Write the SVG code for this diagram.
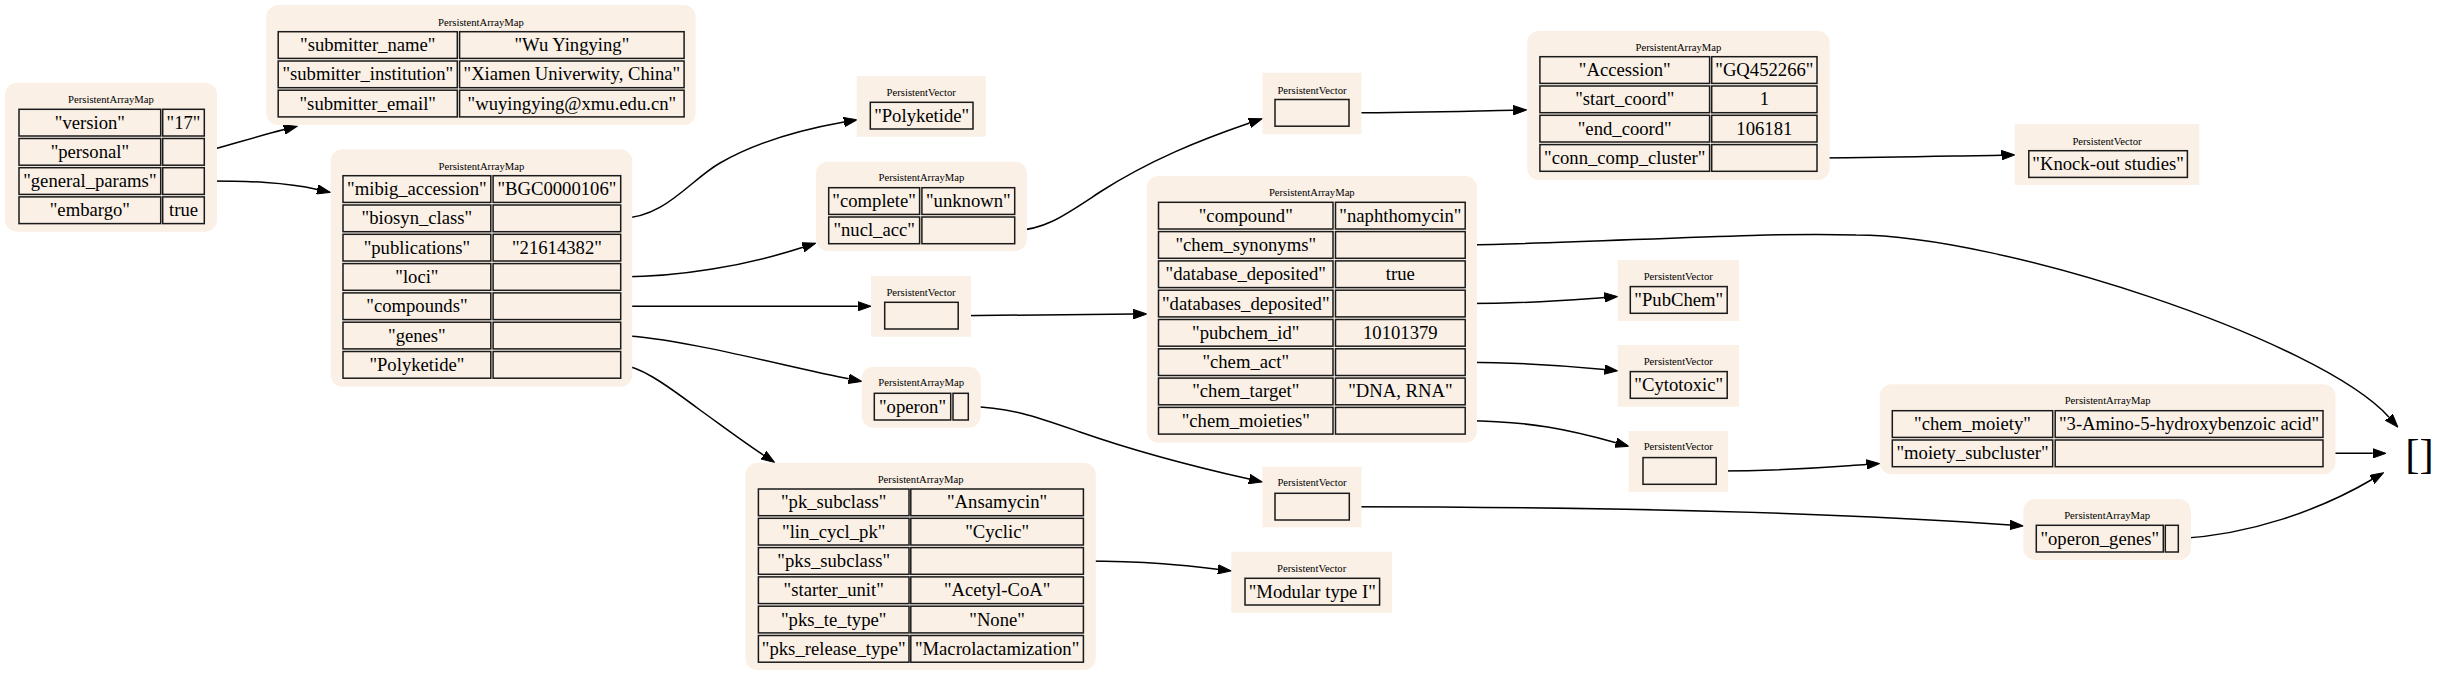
<svg xmlns="http://www.w3.org/2000/svg" width="2461" height="676" viewBox="0 0 2461 676">
<style>
.bg{fill:#faf0e6;stroke:none}
.c{fill:#faf0e6;stroke:#1a1a1a;stroke-width:1.5}
.t{font-family:"Liberation Serif","Times New Roman",serif;font-size:18.67px;text-anchor:middle;fill:#000}
.h{font-family:"Liberation Serif","Times New Roman",serif;font-size:10.67px;text-anchor:middle;fill:#000}
.e{fill:none;stroke:#000;stroke-width:1.5;marker-end:url(#ah)}
</style>
<defs>
<marker id="ah" markerUnits="userSpaceOnUse" markerWidth="14" markerHeight="10" refX="0" refY="5" orient="auto" viewBox="0 0 14 10">
<path d="M0,0.3 L13.3,5 L0,9.7 z" fill="#000" stroke="#000" stroke-width="1"/>
</marker>
</defs>
<rect width="2461" height="676" fill="#fff"/>

<g id="edges">
<path class="e" d="M204.3,151.85 C230,145 255,137 284.2,129.6"/>
<path class="e" d="M204.3,181.05 C250,181 285,182 317.3,189.4"/>
<path class="e" d="M620.7,218.35 C665,218 690,180 720,163 C760,140 810,128 844,122"/>
<path class="e" d="M620.7,276.95 C680,276.7 745,266 803,247.3"/>
<path class="e" d="M620.7,306.25 L857.7,306.25"/>
<path class="e" d="M620.7,335.55 C680,338 780,365 848.7,378.8"/>
<path class="e" d="M620.7,364.85 C640,367 660,380 700,410 C725,428 745,443 763.5,455.1"/>
<path class="e" d="M1014.7,230.35 C1045,230 1065,215 1100,192 C1150,160 1200,140 1249.5,123"/>
<path class="e" d="M1349,112.85 C1420,112.5 1470,111 1513.2,110.2"/>
<path class="e" d="M1817,157.95 C1900,157.5 1950,156 2001.5,155.2"/>
<path class="e" d="M958.2,315.65 C1030,315.5 1080,314.5 1133.4,314.1"/>
<path class="e" d="M1465.2,244.95 C1600,243 1750,232 1856,235 C2000,235 2320,340 2389,417.2"/>
<path class="e" d="M1465.2,303.55 C1530,303.7 1570,300 1604.4,297.5"/>
<path class="e" d="M1465.2,362.15 C1530,362.6 1570,366 1604.5,369.5"/>
<path class="e" d="M1465.2,420.75 C1530,421 1570,430 1616,442.7"/>
<path class="e" d="M1716.2,470.95 C1790,471 1830,467 1866.5,464.5"/>
<path class="e" d="M2323,453.35 L2372.7,453.35"/>
<path class="e" d="M1083.4,560.95 C1150,561 1190,566 1218,569.3"/>
<path class="e" d="M1349.3,506.65 C1700,507 1900,517 2010,525"/>
<path class="e" d="M2178.3,538.65 C2250,535 2320,510 2372,479.5"/>
<path class="e" d="M968.3,406.65 C1010,406.7 1040,418 1080,432 C1140,453 1200,468 1249.2,479.1"/>
</g>

<g id="root">
<rect class="bg" x="5" y="82.7" width="212" height="149" rx="12"/>
<text class="h" x="111" y="102.5">PersistentArrayMap</text>
<rect class="c" x="19" y="109.3" width="141.7" height="26.7"/><rect class="c" x="162.7" y="109.3" width="41.6" height="26.7"/>
<rect class="c" x="19" y="138.5" width="141.7" height="26.7"/><rect class="c" x="162.7" y="138.5" width="41.6" height="26.7"/>
<rect class="c" x="19" y="167.7" width="141.7" height="26.7"/><rect class="c" x="162.7" y="167.7" width="41.6" height="26.7"/>
<rect class="c" x="19" y="196.9" width="141.7" height="26.7"/><rect class="c" x="162.7" y="196.9" width="41.6" height="26.7"/>
<text class="t" x="89.85" y="128.65">"version"</text><text class="t" x="183.5" y="128.65">"17"</text>
<text class="t" x="89.85" y="157.85">"personal"</text>
<text class="t" x="89.85" y="187.05">"general_params"</text>
<text class="t" x="89.85" y="216.25">"embargo"</text><text class="t" x="183.5" y="216.25">true</text>
</g>

<g id="personal">
<rect class="bg" x="266.3" y="5" width="429.3" height="120" rx="12"/>
<text class="h" x="481" y="25.8">PersistentArrayMap</text>
<rect class="c" x="278.2" y="31.7" width="179.1" height="26.7"/><rect class="c" x="459.6" y="31.7" width="224.5" height="26.7"/>
<rect class="c" x="278.2" y="61" width="179.1" height="26.7"/><rect class="c" x="459.6" y="61" width="224.5" height="26.7"/>
<rect class="c" x="278.2" y="90.2" width="179.1" height="26.7"/><rect class="c" x="459.6" y="90.2" width="224.5" height="26.7"/>
<text class="t" x="367.75" y="51.05">"submitter_name"</text><text class="t" x="571.85" y="51.05">"Wu Yingying"</text>
<text class="t" x="367.75" y="80.35">"submitter_institution"</text><text class="t" x="571.85" y="80.35">"Xiamen Univerwity, China"</text>
<text class="t" x="367.75" y="109.55">"submitter_email"</text><text class="t" x="571.85" y="109.55">"wuyingying@xmu.edu.cn"</text>
</g>

<g id="general_params">
<rect class="bg" x="330.6" y="149.3" width="301.6" height="237.4" rx="12"/>
<text class="h" x="481.4" y="170.2">PersistentArrayMap</text>
<rect class="c" x="343" y="175.7" width="147.8" height="26.7"/><rect class="c" x="493.1" y="175.7" width="127.6" height="26.7"/>
<rect class="c" x="343" y="205" width="147.8" height="26.7"/><rect class="c" x="493.1" y="205" width="127.6" height="26.7"/>
<rect class="c" x="343" y="234.3" width="147.8" height="26.7"/><rect class="c" x="493.1" y="234.3" width="127.6" height="26.7"/>
<rect class="c" x="343" y="263.6" width="147.8" height="26.7"/><rect class="c" x="493.1" y="263.6" width="127.6" height="26.7"/>
<rect class="c" x="343" y="292.9" width="147.8" height="26.7"/><rect class="c" x="493.1" y="292.9" width="127.6" height="26.7"/>
<rect class="c" x="343" y="322.2" width="147.8" height="26.7"/><rect class="c" x="493.1" y="322.2" width="127.6" height="26.7"/>
<rect class="c" x="343" y="351.5" width="147.8" height="26.7"/><rect class="c" x="493.1" y="351.5" width="127.6" height="26.7"/>
<text class="t" x="416.9" y="195.05">"mibig_accession"</text><text class="t" x="556.9" y="195.05">"BGC0000106"</text>
<text class="t" x="416.9" y="224.35">"biosyn_class"</text>
<text class="t" x="416.9" y="253.65">"publications"</text><text class="t" x="556.9" y="253.65">"21614382"</text>
<text class="t" x="416.9" y="282.95">"loci"</text>
<text class="t" x="416.9" y="312.25">"compounds"</text>
<text class="t" x="416.9" y="341.55">"genes"</text>
<text class="t" x="416.9" y="370.85">"Polyketide"</text>
</g>

<g id="biosyn_class">
<rect class="bg" x="856.7" y="76" width="129" height="60.7"/>
<text class="h" x="921.2" y="96.2">PersistentVector</text>
<rect class="c" x="870.3" y="102.3" width="102.7" height="26.7"/>
<text class="t" x="921.65" y="121.65">"Polyketide"</text>
</g>

<g id="loci">
<rect class="bg" x="815.9" y="161.7" width="211.1" height="89.3" rx="12"/>
<text class="h" x="921.4" y="181.2">PersistentArrayMap</text>
<rect class="c" x="828.7" y="187.7" width="90.9" height="26.7"/><rect class="c" x="921.9" y="187.7" width="92.8" height="26.7"/>
<rect class="c" x="828.7" y="217" width="90.9" height="26.7"/><rect class="c" x="921.9" y="217" width="92.8" height="26.7"/>
<text class="t" x="874.15" y="207.05">"complete"</text><text class="t" x="968.3" y="207.05">"unknown"</text>
<text class="t" x="874.15" y="236.35">"nucl_acc"</text>
</g>

<g id="compounds">
<rect class="bg" x="871" y="276" width="100" height="60.7"/>
<text class="h" x="921" y="296.2">PersistentVector</text>
<rect class="c" x="884.7" y="302.3" width="73.5" height="26.7"/>
</g>

<g id="genes">
<rect class="bg" x="861.7" y="366.7" width="119" height="61" rx="12"/>
<text class="h" x="921.2" y="386.2">PersistentArrayMap</text>
<rect class="c" x="874.3" y="393.3" width="76.4" height="26.7"/><rect class="c" x="953" y="393.3" width="15.3" height="26.7"/>
<text class="t" x="912.5" y="412.65">"operon"</text>
</g>

<g id="polyketide">
<rect class="bg" x="745.5" y="462.7" width="350.3" height="207.3" rx="12"/>
<text class="h" x="920.6" y="482.5">PersistentArrayMap</text>
<rect class="c" x="758.4" y="489" width="150.6" height="26.7"/><rect class="c" x="910.8" y="489" width="172.6" height="26.7"/>
<rect class="c" x="758.4" y="518.3" width="150.6" height="26.7"/><rect class="c" x="910.8" y="518.3" width="172.6" height="26.7"/>
<rect class="c" x="758.4" y="547.6" width="150.6" height="26.7"/><rect class="c" x="910.8" y="547.6" width="172.6" height="26.7"/>
<rect class="c" x="758.4" y="576.9" width="150.6" height="26.7"/><rect class="c" x="910.8" y="576.9" width="172.6" height="26.7"/>
<rect class="c" x="758.4" y="606.2" width="150.6" height="26.7"/><rect class="c" x="910.8" y="606.2" width="172.6" height="26.7"/>
<rect class="c" x="758.4" y="635.5" width="150.6" height="26.7"/><rect class="c" x="910.8" y="635.5" width="172.6" height="26.7"/>
<text class="t" x="833.7" y="508.35">"pk_subclass"</text><text class="t" x="997.1" y="508.35">"Ansamycin"</text>
<text class="t" x="833.7" y="537.65">"lin_cycl_pk"</text><text class="t" x="997.1" y="537.65">"Cyclic"</text>
<text class="t" x="833.7" y="566.95">"pks_subclass"</text>
<text class="t" x="833.7" y="596.25">"starter_unit"</text><text class="t" x="997.1" y="596.25">"Acetyl-CoA"</text>
<text class="t" x="833.7" y="625.55">"pks_te_type"</text><text class="t" x="997.1" y="625.55">"None"</text>
<text class="t" x="833.7" y="654.85">"pks_release_type"</text><text class="t" x="997.1" y="654.85">"Macrolactamization"</text>
</g>

<g id="nucl_acc">
<rect class="bg" x="1262.5" y="72.7" width="99" height="61.6"/>
<text class="h" x="1312" y="93.5">PersistentVector</text>
<rect class="c" x="1275" y="99.5" width="74" height="26.7"/>
</g>

<g id="locus">
<rect class="bg" x="1527.2" y="30.7" width="302.4" height="149.3" rx="12"/>
<text class="h" x="1678.4" y="51.2">PersistentArrayMap</text>
<rect class="c" x="1539.9" y="56.7" width="169.7" height="26.7"/><rect class="c" x="1711.7" y="56.7" width="105.3" height="26.7"/>
<rect class="c" x="1539.9" y="86" width="169.7" height="26.7"/><rect class="c" x="1711.7" y="86" width="105.3" height="26.7"/>
<rect class="c" x="1539.9" y="115.3" width="169.7" height="26.7"/><rect class="c" x="1711.7" y="115.3" width="105.3" height="26.7"/>
<rect class="c" x="1539.9" y="144.6" width="169.7" height="26.7"/><rect class="c" x="1711.7" y="144.6" width="105.3" height="26.7"/>
<text class="t" x="1624.75" y="76.05">"Accession"</text><text class="t" x="1764.35" y="76.05">"GQ452266"</text>
<text class="t" x="1624.75" y="105.35">"start_coord"</text><text class="t" x="1764.35" y="105.35">1</text>
<text class="t" x="1624.75" y="134.65">"end_coord"</text><text class="t" x="1764.35" y="134.65">106181</text>
<text class="t" x="1624.75" y="163.95">"conn_comp_cluster"</text>
</g>

<g id="conn_comp_cluster">
<rect class="bg" x="2014.8" y="124" width="184.5" height="61"/>
<text class="h" x="2107" y="144.5">PersistentVector</text>
<rect class="c" x="2028.8" y="150.7" width="158.6" height="26.7"/>
<text class="t" x="2108.1" y="170.05">"Knock-out studies"</text>
</g>

<g id="compound">
<rect class="bg" x="1146.7" y="176" width="330.3" height="266.7" rx="12"/>
<text class="h" x="1311.8" y="196.2">PersistentArrayMap</text>
<rect class="c" x="1158.5" y="202.3" width="174.5" height="26.7"/><rect class="c" x="1335.5" y="202.3" width="129.7" height="26.7"/>
<rect class="c" x="1158.5" y="231.6" width="174.5" height="26.7"/><rect class="c" x="1335.5" y="231.6" width="129.7" height="26.7"/>
<rect class="c" x="1158.5" y="260.9" width="174.5" height="26.7"/><rect class="c" x="1335.5" y="260.9" width="129.7" height="26.7"/>
<rect class="c" x="1158.5" y="290.2" width="174.5" height="26.7"/><rect class="c" x="1335.5" y="290.2" width="129.7" height="26.7"/>
<rect class="c" x="1158.5" y="319.5" width="174.5" height="26.7"/><rect class="c" x="1335.5" y="319.5" width="129.7" height="26.7"/>
<rect class="c" x="1158.5" y="348.8" width="174.5" height="26.7"/><rect class="c" x="1335.5" y="348.8" width="129.7" height="26.7"/>
<rect class="c" x="1158.5" y="378.1" width="174.5" height="26.7"/><rect class="c" x="1335.5" y="378.1" width="129.7" height="26.7"/>
<rect class="c" x="1158.5" y="407.4" width="174.5" height="26.7"/><rect class="c" x="1335.5" y="407.4" width="129.7" height="26.7"/>
<text class="t" x="1245.75" y="221.65">"compound"</text><text class="t" x="1400.35" y="221.65">"naphthomycin"</text>
<text class="t" x="1245.75" y="250.95">"chem_synonyms"</text>
<text class="t" x="1245.75" y="280.25">"database_deposited"</text><text class="t" x="1400.35" y="280.25">true</text>
<text class="t" x="1245.75" y="309.55">"databases_deposited"</text>
<text class="t" x="1245.75" y="338.85">"pubchem_id"</text><text class="t" x="1400.35" y="338.85">10101379</text>
<text class="t" x="1245.75" y="368.15">"chem_act"</text>
<text class="t" x="1245.75" y="397.45">"chem_target"</text><text class="t" x="1400.35" y="397.45">"DNA, RNA"</text>
<text class="t" x="1245.75" y="426.75">"chem_moieties"</text>
</g>

<g id="databases_deposited">
<rect class="bg" x="1617.7" y="260" width="121.3" height="61"/>
<text class="h" x="1678.3" y="280.2">PersistentVector</text>
<rect class="c" x="1630.3" y="286.6" width="96.9" height="26.7"/>
<text class="t" x="1678.75" y="305.95">"PubChem"</text>
</g>

<g id="chem_act">
<rect class="bg" x="1617.7" y="345" width="121.3" height="61.7"/>
<text class="h" x="1678.3" y="365.2">PersistentVector</text>
<rect class="c" x="1630.3" y="371.6" width="96.9" height="26.7"/>
<text class="t" x="1678.75" y="390.95">"Cytotoxic"</text>
</g>

<g id="chem_moieties">
<rect class="bg" x="1628.6" y="431" width="99.4" height="61"/>
<text class="h" x="1678.3" y="450.2">PersistentVector</text>
<rect class="c" x="1643" y="457.6" width="73.2" height="26.7"/>
</g>

<g id="chem_moiety">
<rect class="bg" x="1879.7" y="384.3" width="455.8" height="90" rx="12"/>
<text class="h" x="2107.6" y="404.2">PersistentArrayMap</text>
<rect class="c" x="1892.3" y="410.7" width="160.4" height="26.7"/><rect class="c" x="2055.2" y="410.7" width="267.8" height="26.7"/>
<rect class="c" x="1892.3" y="440" width="160.4" height="26.7"/><rect class="c" x="2055.2" y="440" width="267.8" height="26.7"/>
<text class="t" x="1972.5" y="430.05">"chem_moiety"</text><text class="t" x="2189.1" y="430.05">"3-Amino-5-hydroxybenzoic acid"</text>
<text class="t" x="1972.5" y="459.35">"moiety_subcluster"</text>
</g>

<g id="operon">
<rect class="bg" x="1262.5" y="466.7" width="99" height="60.6"/>
<text class="h" x="1312" y="486.2">PersistentVector</text>
<rect class="c" x="1275" y="493.3" width="74.3" height="26.7"/>
</g>

<g id="pks_subclass">
<rect class="bg" x="1231.3" y="551.7" width="160.7" height="61"/>
<text class="h" x="1311.6" y="571.8">PersistentVector</text>
<rect class="c" x="1245" y="578.3" width="134.6" height="26.7"/>
<text class="t" x="1312.3" y="597.65">"Modular type I"</text>
</g>

<g id="operon_genes">
<rect class="bg" x="2023.3" y="499" width="167.7" height="61" rx="12"/>
<text class="h" x="2107.1" y="518.5">PersistentArrayMap</text>
<rect class="c" x="2036.3" y="525.3" width="127" height="26.7"/><rect class="c" x="2165.3" y="525.3" width="13" height="26.7"/>
<text class="t" x="2099.8" y="544.65">"operon_genes"</text>
</g>

<g id="empty">
<text x="2419.4" y="467.5" style="font-family:'Liberation Serif','Times New Roman',serif;font-size:42.7px;text-anchor:middle">[]</text>
</g>
</svg>
